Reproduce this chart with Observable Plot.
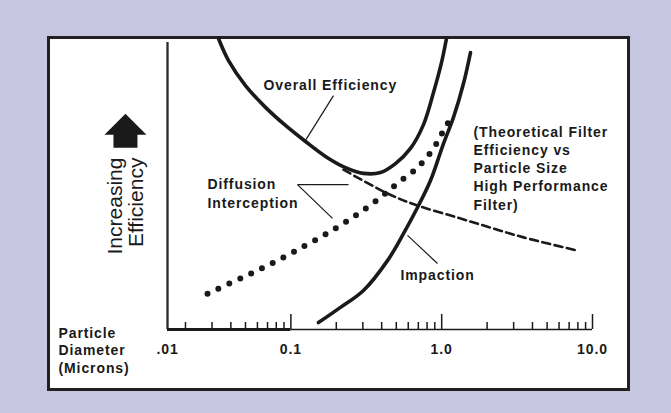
<!DOCTYPE html>
<html>
<head>
<meta charset="utf-8">
<script src="https://cdn.jsdelivr.net/npm/d3@7"></script>
<script src="https://cdn.jsdelivr.net/npm/@observablehq/plot@0.6"></script>
<style>
  html, body { margin: 0; padding: 0; width: 671px; height: 413px; overflow: hidden; background: #c6c6e0; }
  #box { position: absolute; left: 47px; top: 36px; width: 583px; height: 355px; box-sizing: border-box;
         border: 3px solid #231f20; background: #ffffff; }
  #chart { position: absolute; left: 0; top: 0; }
  #chart g[font-weight="bold"] { letter-spacing: 0.9px; }
</style>
</head>
<body>
<div id="box"></div>
<div id="chart"></div>
<script>
// ---- scales (particle diameter in microns, log) and relative efficiency (0-100)
const xDomain = [0.0152, 10];
const yDomain = [0, 100];

// ---- x-axis tick labels and tick marks
const tickValues = [0.0152, 0.1, 1, 10];
const tickLabels = [".01", "0.1", "1.0", "10.0"];
const majorTicks = [0.1, 1, 10];
const minorTicks = [0.02, 0.03, 0.04, 0.05, 0.06, 0.07, 0.08, 0.09,
                    0.2, 0.3, 0.4, 0.5, 0.6, 0.7, 0.8, 0.9,
                    2, 3, 4, 5, 6, 7, 8, 9];

// ---- curves [diameter, efficiency]
const overall = [
  [0.0331, 101.4], [0.0386, 93.7], [0.0500, 85.0], [0.0679, 77.4], [0.0921, 71.1],
  [0.125, 65.5], [0.1696, 60.3], [0.2301, 56.4], [0.303, 54.4],
  [0.3928, 54.7], [0.4939, 57.8], [0.6209, 63.1], [0.7574, 71.4], [0.8823, 82.6],
  [0.997, 93.0], [1.076, 101.4]
];
const diffusion = [
  [0.2233, 55.7], [0.4371, 47.4], [0.6911, 43.2], [1.273, 39.0],
  [2.107, 35.5], [3.487, 32.1], [7.954, 27.5]
];
const interception = [
  [0.0280, 12.5], [0.0476, 18.1], [0.0767, 23.3], [0.125, 29.3], [0.1917, 34.8],
  [0.2808, 40.4], [0.3928, 46.0], [0.5092, 50.9], [0.6911, 56.4], [0.8823, 63.1],
  [1.028, 69.3], [1.144, 73.5]
];
const impaction = [
  [0.1524, 2.4], [0.2132, 7.7], [0.303, 13.6], [0.4371, 24.0], [0.558, 33.4],
  [0.6911, 42.5], [0.8427, 51.9], [1.028, 64.8], [1.197, 73.9], [1.395, 85.7],
  [1.552, 96.5]
];

// ---- annotation leader lines [x1, y1, x2, y2]
const leaders = [
  [0.1917, 81.5, 0.125, 65.9],
  [0.1106, 50.5, 0.241, 50.5],
  [0.1106, 50.5, 0.1888, 38.7],
  [0.5932, 32.8, 0.9378, 23.0]
];

// ---- labels [x, y, text] (y = baseline of last line)
const curveLabels = [
  [0.0658, 83.6, "Overall Efficiency"],
  [0.533, 17.1, "Impaction"]
];
const diffusionLabel = [[0.0280, 42.2, "Diffusion\nInterception"]];
const noteLabel = [[1.625, 41.8, "(Theoretical Filter\nEfficiency vs\nParticle Size\nHigh Performance\nFilter)"]];
const xTitle = [[0.002877, -15.1, "Particle\nDiameter\n(Microns)"]];
const yTitle = [[0.01038, 59.9, "Increasing\nEfficiency"]];
const arrowPos = [[0.0080, 67.9]];

const arrowSymbol = {
  draw(ctx) {
    ctx.moveTo(0, -21);
    ctx.lineTo(21, 0);
    ctx.lineTo(12, 0);
    ctx.lineTo(12, 13);
    ctx.lineTo(-12, 13);
    ctx.lineTo(-12, 0);
    ctx.lineTo(-21, 0);
    ctx.closePath();
  }
};

const ink = "#1a1a1a";
const px = d => d[0], py = d => d[1], pt = d => d[2];

const chart = Plot.plot({
  width: 671,
  height: 413,
  marginLeft: 167,
  marginRight: 79,
  marginTop: 42,
  marginBottom: 84,
  x: {type: "log", domain: xDomain},
  y: {domain: yDomain, axis: null},
  style: {
    background: "transparent",
    color: ink,
    fontFamily: "'Liberation Sans', Arial, Helvetica, sans-serif",
    fontSize: "14px",
    overflow: "visible"
  },
  marks: [
    // axes
    Plot.ruleX([xDomain[0]], {y1: 0, y2: 100, stroke: "#2b2b2b", strokeWidth: 2.3}),
    Plot.ruleY([0], {x1: xDomain[0], x2: 0.1, stroke: ink, strokeWidth: 3}),
    Plot.ruleY([0], {x1: 0.1, x2: 10, stroke: ink, strokeWidth: 1.3}),
    Plot.ruleX(majorTicks, {y1: 0, y2: 0, insetTop: -15, stroke: ink, strokeWidth: 1.5}),
    Plot.ruleX(minorTicks, {y1: 0, y2: 0, insetTop: -7, stroke: ink, strokeWidth: 1.5}),
    Plot.axisX({
      ticks: tickValues,
      tickFormat: d => tickLabels[tickValues.indexOf(d)],
      tickSize: 0,
      tickPadding: 15,
      label: null,
      fontSize: 14,
      fontWeight: "bold"
    }),
    // curves
    Plot.line(diffusion, {x: px, y: py, curve: "catmull-rom", stroke: ink, strokeWidth: 2.6, strokeDasharray: "8 4.5"}),
    Plot.line(interception, {x: px, y: py, curve: "catmull-rom", stroke: ink, strokeWidth: 6, strokeDasharray: "0 12", strokeLinecap: "round"}),
    Plot.line(overall, {x: px, y: py, curve: "catmull-rom", stroke: ink, strokeWidth: 3.6}),
    Plot.line(impaction, {x: px, y: py, curve: "catmull-rom", stroke: ink, strokeWidth: 3.6}),
    // leaders
    Plot.link(leaders, {x1: d => d[0], y1: d => d[1], x2: d => d[2], y2: d => d[3], stroke: ink, strokeWidth: 1.2}),
    // labels
    Plot.text(curveLabels, {x: px, y: py, text: pt, textAnchor: "start", lineAnchor: "bottom", fontSize: 14, fontWeight: "bold", fill: ink}),
    Plot.text(diffusionLabel, {x: px, y: py, text: pt, textAnchor: "start", lineAnchor: "bottom", lineHeight: 1.36, fontSize: 14, fontWeight: "bold", fill: ink}),
    Plot.text(noteLabel, {x: px, y: py, text: pt, textAnchor: "start", lineAnchor: "bottom", lineHeight: 1.29, fontSize: 14, fontWeight: "bold", fill: ink}),
    Plot.text(xTitle, {x: px, y: py, text: pt, textAnchor: "start", lineAnchor: "bottom", lineHeight: 1.25, fontSize: 14, fontWeight: "bold", fill: ink}),
    Plot.text(yTitle, {x: px, y: py, text: pt, rotate: -90, textAnchor: "end", lineAnchor: "bottom", lineHeight: 1, fontSize: 21, fontWeight: "normal", fill: ink}),
    Plot.dot(arrowPos, {x: px, y: py, symbol: arrowSymbol, fill: ink, stroke: "none"})
  ]
});
document.getElementById("chart").appendChild(chart);
</script>
</body>
</html>
